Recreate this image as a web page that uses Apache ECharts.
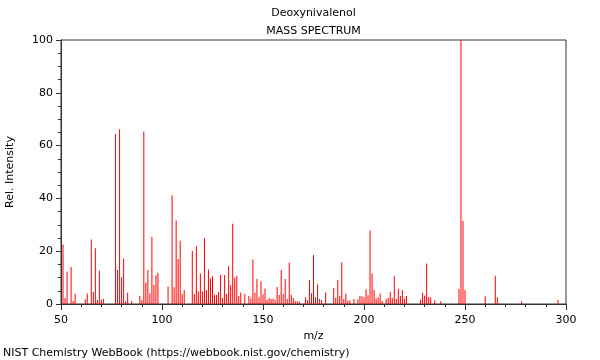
<!DOCTYPE html>
<html>
<head>
<meta charset="utf-8">
<script src="https://cdn.jsdelivr.net/npm/echarts@6/dist/echarts.min.js"></script>
<style>html,body{margin:0;padding:0;background:#fff}#c{width:600px;height:360px}</style>
</head>
<body>
<div id="c"></div>
<script>
const mz = [51,52,53,55,56,57,62,63,65,66,67,68,69,70,71,77,78,79,80,81,82,83,85,89,90,
  91,92,93,94,95,96,97,98,103,105,106,107,108,109,110,111,115,116,117,118,119,120,121,122,123,124,125,126,127,128,129,130,
  131,132,133,134,135,136,137,138,139,141,143,144,145,146,147,148,149,150,151,152,153,154,155,156,157,158,159,160,
  161,162,163,164,165,166,167,168,171,172,173,174,175,176,177,178,179,181,185,186,187,188,189,190,
  191,192,193,195,197,198,199,200,201,202,203,204,205,206,207,208,209,211,212,213,214,215,216,217,218,219,220,221,
  228,229,230,231,232,233,235,238,247,248,249,250,260,265,266,278,296];
const intensity = [22.5,2.3,12.2,14.0,1.1,3.9,1.8,4.0,24.4,4.5,21.1,1.5,12.6,1.6,2.0,64.4,12.9,66.2,10.1,17.2,1.0,4.3,1.1,3.0,1.5,
  65.3,8.1,12.9,4.0,25.5,7.2,10.9,11.8,6.6,41.2,6.3,31.6,17.0,24.0,3.8,5.3,20.1,3.8,22.0,4.7,11.6,4.7,25.0,5.3,13.1,9.7,10.5,3.5,3.4,4.5,11.0,2.3,
  11.0,3.8,14.4,7.1,30.4,9.9,10.6,3.0,4.4,3.8,3.0,2.1,16.9,4.4,9.5,2.5,8.6,3.7,5.9,1.5,2.3,1.9,2.1,1.5,6.4,3.4,12.9,3.8,
  9.5,1.9,15.7,3.5,2.3,1.0,1.0,0.9,2.6,1.5,9.1,4.1,18.6,2.5,7.4,1.9,1.5,4.4,6.1,2.4,9.0,3.0,15.8,1.9,
  3.9,1.3,1.3,1.9,1.8,3.0,2.9,2.6,5.6,3.3,27.8,11.6,5.3,2.1,2.5,4.0,1.1,1.9,2.4,4.5,2.3,10.5,1.9,5.7,3.0,5.3,2.1,3.0,
  1.6,4.2,3.2,15.3,2.6,2.6,1.4,1.0,5.7,100,31.4,5.3,2.9,10.7,2.6,1.0,1.5];
const compoundName = 'Deoxynivalenol';
const subtitle = 'MASS SPECTRUM';
const xTitle = 'm/z';
const yTitle = 'Rel. Intensity';
const footer = 'NIST Chemistry WebBook (https://webbook.nist.gov/chemistry)';

const FONT = 'DejaVu Sans';
const chart = echarts.init(document.getElementById('c'), null, {renderer: 'canvas'});
chart.setOption({
  animation: false,
  backgroundColor: '#fff',
  textStyle: {fontFamily: FONT},
  grid: {left: 61, right: 34, top: 40, bottom: 56, containLabel: false, outerBoundsMode: 'none',
    show: true, borderColor: '#333', borderWidth: 1, backgroundColor: 'transparent'},
  graphic: [
    {type: 'text', x: 313.5, y: 13, style: {text: compoundName, fontFamily: FONT, fontSize: 11, fill: '#000', textAlign: 'center', textVerticalAlign: 'middle'}},
    {type: 'text', x: 313.5, y: 31, style: {text: subtitle, fontFamily: FONT, fontSize: 11, fill: '#000', textAlign: 'center', textVerticalAlign: 'middle'}},
    {type: 'text', x: 3, y: 353, style: {text: footer, fontFamily: FONT, fontSize: 11, fill: '#000', textAlign: 'left', textVerticalAlign: 'middle'}}
  ],
  xAxis: {
    type: 'value', min: 50, max: 300, interval: 50,
    name: xTitle, nameLocation: 'middle', nameGap: 26,
    nameTextStyle: {fontFamily: FONT, fontSize: 11, color: '#000'},
    axisLine: {show: true, onZero: false, lineStyle: {color: '#333', width: 1}},
    axisTick: {show: true, length: 6, lineStyle: {color: '#333'}},
    minorTick: {show: true, splitNumber: 5, length: 3, lineStyle: {color: '#333'}},
    splitLine: {show: false},
    axisLabel: {margin: 11, fontFamily: FONT, fontSize: 11, color: '#000'}
  },
  yAxis: {
    type: 'value', min: 0, max: 100, interval: 20,
    name: yTitle, nameLocation: 'middle', nameGap: 45,
    nameTextStyle: {fontFamily: FONT, fontSize: 11, color: '#000'},
    axisLine: {show: true, lineStyle: {color: '#333', width: 1}},
    axisTick: {show: true, length: 5, lineStyle: {color: '#333'}},
    minorTick: {show: true, splitNumber: 4, length: 3, lineStyle: {color: '#333'}},
    splitLine: {show: false},
    axisLabel: {margin: 8, fontFamily: FONT, fontSize: 11, color: '#000'}
  },
  series: [{
    type: 'bar',
    barWidth: 1,
    itemStyle: {color: '#ff0000'},
    data: mz.map((m, i) => [m, intensity[i]])
  }]
});
</script>
</body>
</html>
